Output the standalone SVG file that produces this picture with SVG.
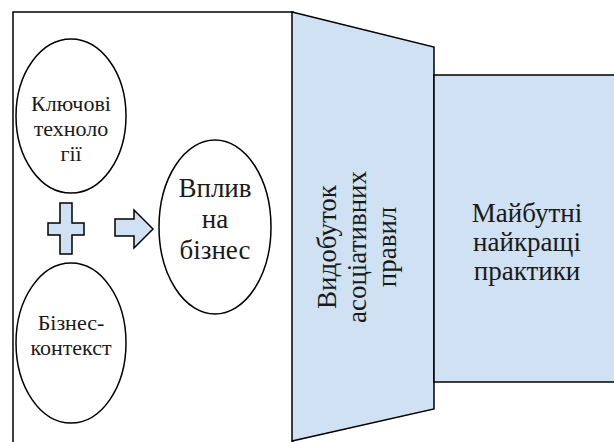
<svg xmlns="http://www.w3.org/2000/svg" width="614" height="442" viewBox="0 0 614 442">
<style>
.s{stroke:#000;stroke-width:1.5}
.b{fill:#cfe1f2}
.w{fill:#fff}
.t{font-family:"Liberation Serif","Times New Roman",serif;fill:#1a1a1a;text-anchor:middle}
.f22{font-size:22px}
.f27{font-size:27px}
</style>
<rect width="614" height="442" fill="#fff"/>
<g id="panel">
<rect class="s w" x="13" y="12" width="280" height="445"/>
</g>
<g id="mining">
<polygon class="s b" points="292,12 434,47 434,409 292,441"/>
<text class="t f27" transform="rotate(-90)" x="-247" y="336">Видобуток</text>
<text class="t f27" transform="rotate(-90)" x="-247" y="366">асоціативних</text>
<text class="t f27" transform="rotate(-90)" x="-247" y="396">правил</text>
</g>
<g id="practices">
<rect class="s b" x="434" y="75" width="190" height="307"/>
<text class="t f27" x="527" y="222">Майбутні</text>
<text class="t f27" x="527" y="251">найкращі</text>
<text class="t f27" x="527" y="280">практики</text>
</g>
<g id="tech">
<ellipse class="s w" cx="71" cy="116" rx="55" ry="77"/>
<text class="t f22" x="71" y="111">Ключові</text>
<text class="t f22" x="71" y="136">техноло</text>
<text class="t f22" x="71" y="161">гії</text>
</g>
<g id="context">
<ellipse class="s w" cx="71" cy="343" rx="55" ry="80"/>
<text class="t f22" x="71" y="330">Бізнес-</text>
<text class="t f22" x="71" y="355">контекст</text>
</g>
<g id="impact">
<ellipse class="s w" cx="215" cy="227" rx="56" ry="87"/>
<text class="t f27" x="215" y="197">Вплив</text>
<text class="t f27" x="215" y="228">на</text>
<text class="t f27" x="215" y="259">бізнес</text>
</g>
<g id="connectors">
<polygon class="s b" points="60,203 72,203 72,223 84,223 84,235 72,235 72,254 60,254 60,235 48,235 48,223 60,223"/>
<polygon class="s b" points="115,219 134,219 134,210 153,229 134,248 134,236 115,236"/>
</g>
</svg>
